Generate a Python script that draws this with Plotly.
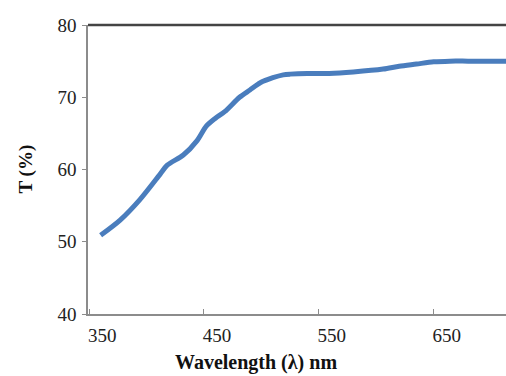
import plotly.graph_objects as go

wavelength = [360, 377, 394, 412, 418, 432, 444, 452, 460, 468, 481, 490, 499, 510, 519, 525, 540, 559, 580, 606, 620, 635, 650, 664, 680, 700, 713]
transmittance = [50.9, 53.0, 55.8, 59.4, 60.6, 62.0, 64.0, 66.0, 67.1, 68.0, 70.0, 71.0, 72.0, 72.7, 73.1, 73.2, 73.3, 73.3, 73.5, 73.9, 74.3, 74.6, 74.9, 75.0, 75.0, 75.0, 75.0]

x_ticks = [350, 450, 550, 650]
y_ticks = [40, 50, 60, 70, 80]

fig = go.Figure()
fig.add_trace(go.Scatter(
    x=wavelength, y=transmittance, mode="lines",
    line=dict(color="#4a7dbd", width=5, shape="spline", smoothing=0.8),
    showlegend=False, hoverinfo="skip",
))

family = "Liberation Serif, Times New Roman, serif"

fig.update_layout(
    width=506, height=376,
    margin=dict(l=88, r=0, t=25, b=62),
    paper_bgcolor="white", plot_bgcolor="white",
    font=dict(family=family, color="#222"),
    xaxis=dict(
        range=[349, 713], tickvals=x_ticks, ticktext=[str(v) for v in x_ticks],
        showgrid=False, zeroline=False, showline=True, linecolor="#8c8c8c", linewidth=1.5,
        ticks="inside", ticklen=5, tickcolor="#8c8c8c", tickwidth=1,
        tickfont=dict(size=19, family=family, color="#222"),
        ticklabelshift=13, ticklabelstandoff=3,
    ),
    yaxis=dict(
        range=[40, 80], tickvals=y_ticks, ticktext=[str(v) for v in y_ticks],
        showgrid=False, zeroline=False, showline=True, linecolor="#8c8c8c", linewidth=1.5,
        ticks="outside", ticklen=4, tickcolor="#8c8c8c", tickwidth=1,
        tickfont=dict(size=19, family=family, color="#222"),
        ticklabelstandoff=2,
    ),
    shapes=[dict(type="line", xref="paper", yref="paper", x0=0, x1=1, y0=1, y1=1,
                 line=dict(color="#444", width=2.5))],
    annotations=[
        dict(text="<b>Wavelength (λ) nm</b>", xref="paper", yref="paper",
             x=0.402, y=0, yshift=-48, showarrow=False, xanchor="center", yanchor="middle",
             font=dict(size=20, family=family, color="#111")),
        dict(text="<b>T (%)</b>", xref="paper", yref="paper",
             x=0, xshift=-63, y=0.5, showarrow=False, textangle=-90,
             xanchor="center", yanchor="middle",
             font=dict(size=19, family=family, color="#111")),
    ],
)

fig.write_html("out.html", config={"displayModeBar": False},
               post_script="document.body.style.margin='0';document.body.style.overflow='hidden';")
